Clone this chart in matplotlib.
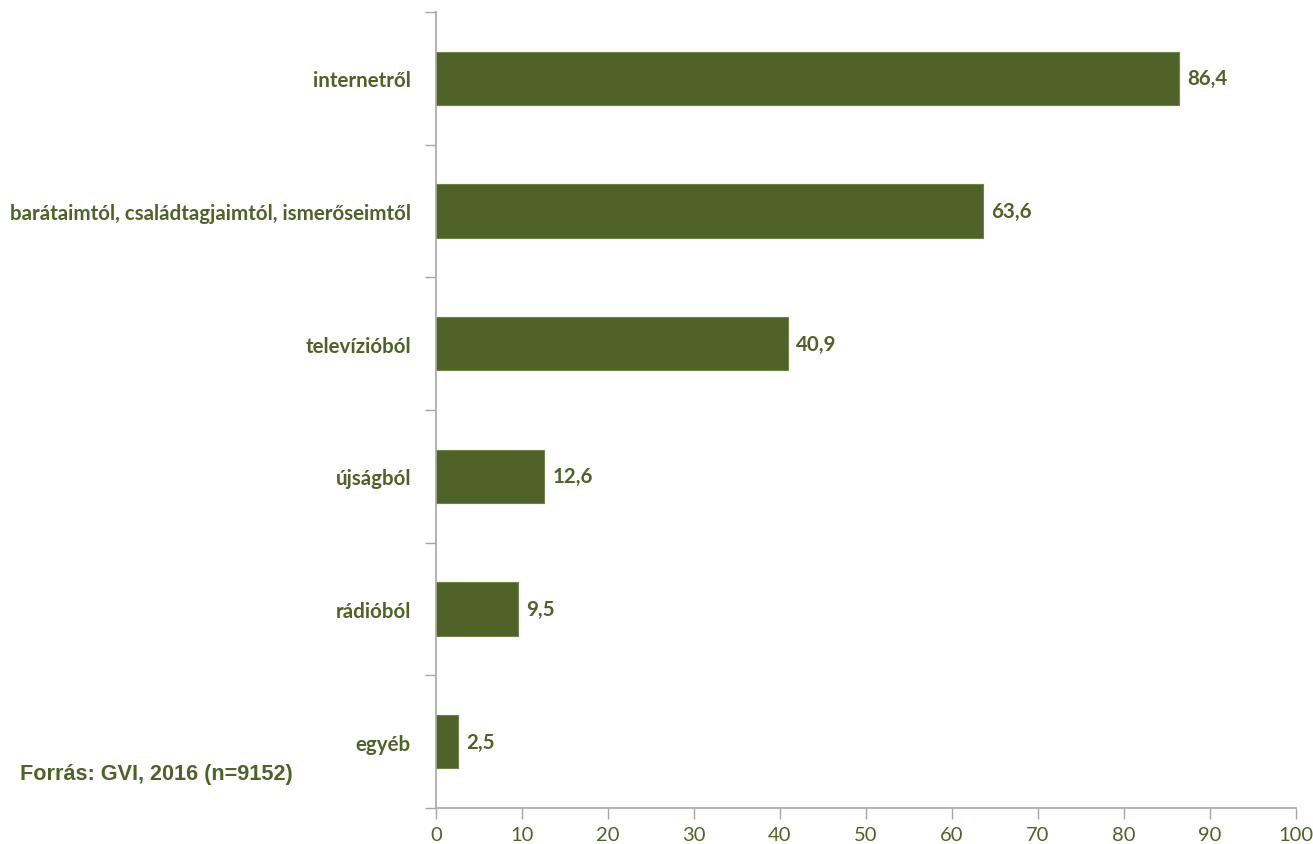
import numpy as np
import matplotlib.pyplot as plt

# Adatok
kategoriak = ['internetről', 'barátaimtól, családtagjaimtól, ismerőseimtől',
              'televízióból', 'újságból', 'rádióból', 'egyéb']
ertekek = [86.4, 63.6, 40.9, 12.6, 9.5, 2.5]
x_ticks = [0, 10, 20, 30, 40, 50, 60, 70, 80, 90, 100]

zold = '#4F6228'
szurke = '#A6A6A6'

fig = plt.figure(figsize=(13.13, 8.45), dpi=100)
ax = fig.add_axes([436 / 1313, 1 - 809 / 845, 860 / 1313, 796 / 845])

n = len(kategoriak)
y = np.arange(n)[::-1]
ax.barh(y, ertekek, height=0.4, color=zold, edgecolor='#6E8446', linewidth=0.8)

for yi, v in zip(y, ertekek):
    ax.text(v + 1.0, yi, f'{v:.1f}'.replace('.', ','), va='center', ha='left',
            color=zold, fontsize=14.8, fontweight='bold', family='Lato')

ax.set_xlim(0, 100)
ax.set_ylim(-0.5, n - 0.5)
ax.set_xticks(x_ticks)
ax.set_xticklabels([str(t) for t in x_ticks], color=zold, fontsize=14.5, family='Lato')

# y tengely: osztásjelek a sávhatárokon, címkék középen
ax.set_yticks(np.arange(-0.5, n, 1.0))
ax.set_yticklabels([])
ax.tick_params(axis='y', which='major', length=8, color=szurke, width=1)
ax.set_yticks(y, minor=True)
ax.set_yticklabels(kategoriak, minor=True, color=zold, fontsize=14.8,
                   fontweight='bold', family='Lato')
ax.tick_params(axis='y', which='minor', length=0, pad=18)
ax.tick_params(axis='x', length=8, color=szurke, width=1, pad=5)

for s in ['top', 'right']:
    ax.spines[s].set_visible(False)
for s in ['left', 'bottom']:
    ax.spines[s].set_color(szurke)
    ax.spines[s].set_linewidth(1.2)

fig.text(20 / 1313, 1 - 775 / 845, 'Forrás: GVI, 2016 (n=9152)', color=zold,
         fontsize=15.6, fontweight='bold', family='Liberation Sans', va='center')

fig.savefig('out.png', dpi=100)
